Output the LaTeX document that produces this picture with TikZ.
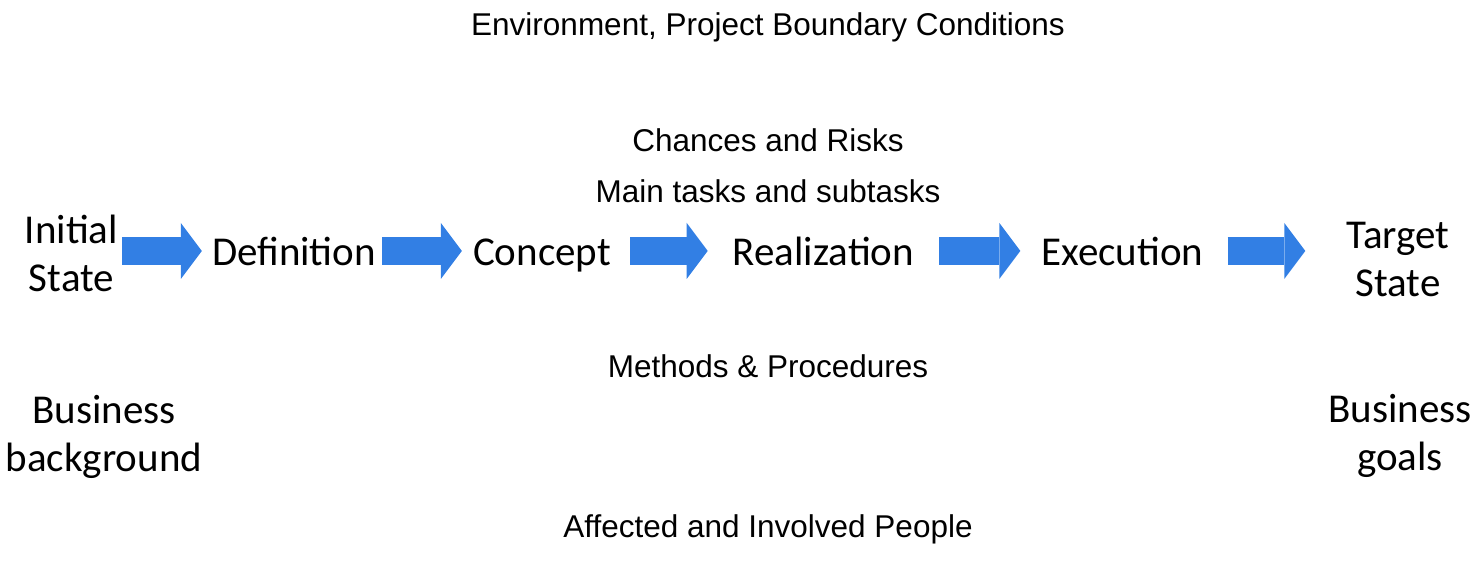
\documentclass[tikz,border=0pt]{standalone}
\usepackage{fontspec}
\setmainfont{Carlito}
\newfontfamily\arialfont{Liberation Sans}
\usetikzlibrary{arrows.meta}
\pgfdeclarelayer{edgelayer}
\pgfdeclarelayer{nodelayer}
\pgfsetlayers{edgelayer,nodelayer,main}
\definecolor{flowblue}{RGB}{50,127,228}
\tikzstyle{stage}=[inner sep=0pt,font=\fontsize{41}{48}\selectfont]
\tikzstyle{stacked}=[stage,align=center]
\tikzstyle{factor}=[inner sep=0pt,anchor=base,font=\arialfont\fontsize{31.5}{37}\selectfont]
\tikzstyle{flow}=[draw=flowblue,line width=28pt,-{Triangle[length=21pt,width=56pt,line width=0pt]}]

\begin{document}
\begin{tikzpicture}[x=1pt,y=-1pt]
	\useasboundingbox (0,0) rectangle (1475,570);
	\begin{pgfonlayer}{nodelayer}
		\node [style=stacked] (0) at (71.5, 253) {Initial\\State};
		\node [style=stage, anchor=base] (1) at (294, 265) {Definition};
		\node [style=stage, anchor=base] (2) at (542, 265) {Concept};
		\node [style=stage, anchor=base] (3) at (823.5, 265) {Realization};
		\node [style=stage, anchor=base] (4) at (1122.5, 265) {Execution};
		\node [style=stacked] (5) at (1398, 259) {Target\\State};
		\node [style=stacked] (6) at (104, 436.5) {Business\\background};
		\node [style=stacked] (7) at (1400, 436) {Business\\goals};
		\node [style=factor] (8) at (768, 35) {Environment, Project Boundary Conditions};
		\node [style=factor] (9) at (768, 151) {Chances and Risks};
		\node [style=factor] (10) at (768, 202) {Main tasks and subtasks};
		\node [style=factor] (11) at (768, 377) {Methods \& Procedures};
		\node [style=factor] (12) at (768, 537) {Affected and Involved People};
	\end{pgfonlayer}
	\begin{pgfonlayer}{edgelayer}
		\draw [style=flow, shorten <=4pt, shorten >=10pt] (0.east |- 1.west) to (1.west);
		\draw [style=flow, shorten <=6pt, shorten >=11pt] (1.east) to (1.east -| 2.west);
		\draw [style=flow, shorten <=19pt, shorten >=25pt] (2.east |- 3.west) to (3.west);
		\draw [style=flow, shorten <=25pt, shorten >=21pt] (3.east) to (3.east -| 4.west);
		\draw [style=flow, shorten <=24pt, shorten >=41pt] (4.east) to (4.east -| 5.west);
	\end{pgfonlayer}
\end{tikzpicture}
\end{document}
